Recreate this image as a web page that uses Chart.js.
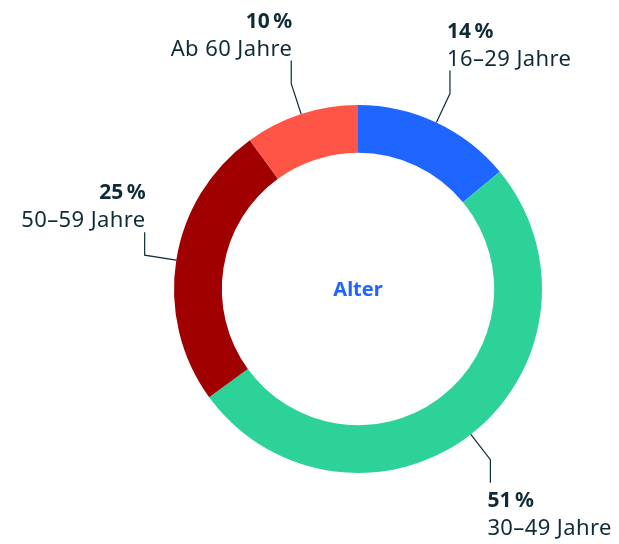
<!DOCTYPE html>
<html>
<head>
<meta charset="utf-8">
<script src="https://cdn.jsdelivr.net/npm/chart.js@4"></script>
<style>
  html, body { margin: 0; padding: 0; background: #fff; }
  #wrap { width: 619px; height: 544px; }
</style>
</head>
<body>
<div id="wrap"><canvas id="ageChart" width="619" height="544"></canvas></div>
<script>
const ageGroups = ["16–29 Jahre", "30–49 Jahre", "50–59 Jahre", "Ab 60 Jahre"];
const shares = [14, 51, 25, 10];
const sliceColors = ["#1e66ff", "#2dd298", "#a00000", "#ff5546"];
const centerTitle = "Alter";

const textColor = "#0f2b36";
const fontFamily = "'Noto Sans', 'Open Sans', sans-serif";

// labels with leader lines
const leaderLabels = {
  id: "leaderLabels",
  afterDraw(chart) {
    const ctx = chart.ctx;
    const arcs = chart.getDatasetMeta(0).data;
    ctx.save();
    arcs.forEach((arc, i) => {
      const mid = (arc.startAngle + arc.endAngle) / 2;
      const dx = Math.cos(mid), dy = Math.sin(mid);
      const x0 = arc.x + dx * arc.outerRadius;
      const y0 = arc.y + dy * arc.outerRadius;
      const x1 = x0 + dx * 32;
      const y1 = y0 + dy * 32;
      const up = y1 < arc.y;
      const y2 = up ? y1 - 23 : y1 + 23;

      ctx.strokeStyle = textColor;
      ctx.lineWidth = 1.2;
      ctx.beginPath();
      ctx.moveTo(x0, y0);
      ctx.lineTo(x1, y1);
      ctx.lineTo(x1, y2);
      ctx.stroke();

      const right = dx >= 0;
      ctx.textAlign = right ? "left" : "right";
      ctx.textBaseline = "alphabetic";
      ctx.fillStyle = textColor;
      const tx = right ? x1 - 3 : x1 + 1;
      let b1, b2;
      if (up) {
        b2 = y2 - 5;
        b1 = b2 - 28;
      } else {
        b1 = y2 + 24;
        b2 = b1 + 28;
      }
      ctx.font = "bold 21px " + fontFamily;
      ctx.fillText(shares[i] + "\u202F%", tx, b1);
      ctx.font = "22px " + fontFamily;
      ctx.letterSpacing = "0.4px";
      ctx.fillText(ageGroups[i], tx, b2);
      ctx.letterSpacing = "0px";
    });

    // center text
    const a = arcs[0];
    ctx.font = "bold 20px " + fontFamily;
    ctx.fillStyle = "#1e66ff";
    ctx.textAlign = "center";
    ctx.textBaseline = "middle";
    ctx.fillText(centerTitle, a.x, a.y + 1);
    ctx.restore();
  },
};

new Chart(document.getElementById("ageChart"), {
  type: "doughnut",
  data: {
    labels: ageGroups,
    datasets: [
      {
        data: shares,
        backgroundColor: sliceColors,
        borderWidth: 0,
      },
    ],
  },
  options: {
    responsive: false,
    animation: false,
    cutout: "74%",
    layout: {
      padding: { left: 174, right: 77, top: 105, bottom: 71 },
    },
    plugins: {
      legend: { display: false },
      tooltip: { enabled: false },
    },
  },
  plugins: [leaderLabels],
});
</script>
</body>
</html>
